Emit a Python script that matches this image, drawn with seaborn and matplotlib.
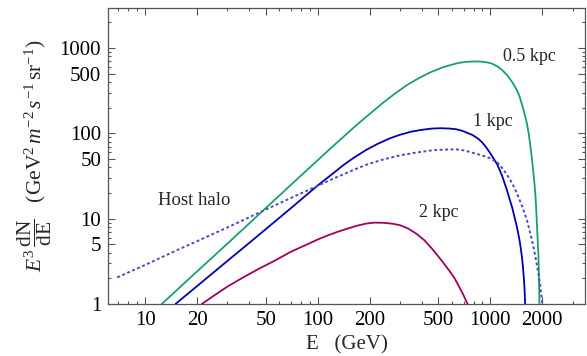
import numpy as np
import pandas as pd
import matplotlib
matplotlib.use("Agg")
import matplotlib.pyplot as plt
import seaborn as sns
from matplotlib.ticker import FixedLocator, FixedFormatter, NullFormatter

# ---------------- data ----------------
E_05 = [12.5, 16, 20, 30, 50, 80, 120, 170, 240, 280, 330, 390, 450, 530, 600, 660,
        720, 780, 826, 880, 950, 1020, 1100, 1170, 1249, 1340, 1426, 1480, 1530, 1580,
        1630, 1670, 1710, 1745, 1780, 1810, 1830, 1850, 1862, 1880, 1900, 1915, 1928]
F_05 = [1, 1.59, 2.41, 5.1, 13.3, 32, 68, 128, 230, 292, 370, 450, 520, 595, 640, 672,
        688, 696, 697, 695, 682, 660, 610, 555, 484, 400, 323, 270, 215, 170,
        131, 100, 70, 50, 34, 24, 18, 12, 8.8, 6, 3.8, 2.2, 1]

E_1 = [15, 20, 30, 45, 70, 100, 125, 140, 160, 191, 220, 260, 298, 350, 400, 460,
       519, 580, 634, 690, 740, 787, 850, 900, 950, 1000, 1050, 1100, 1170, 1249,
       1300, 1340, 1390, 1426, 1455, 1480, 1505, 1525, 1545, 1560, 1578, 1593]
F_1 = [1, 1.62, 3.2, 6.3, 13.3, 24.5, 35, 42, 51, 64, 74.5, 87, 96, 105, 110, 114,
       115, 114, 112, 107, 101, 96, 87, 78, 68, 58.5, 50, 43, 32, 21.7,
       16.5, 13.5, 10, 8.06, 6.6, 5.5, 4.4, 3.6, 2.8, 2.2, 1.6, 1]

E_2 = [21.3, 25, 30, 37, 45, 56, 70, 85, 100, 115, 130, 150, 170, 190, 213, 240,
       270, 300, 335, 372, 415, 462, 520, 580, 620, 660, 700, 739]
F_2 = [1, 1.25, 1.6, 2.05, 2.55, 3.2, 4.1, 4.9, 5.7, 6.4, 7.0, 7.7, 8.3, 8.75, 9.0, 8.95,
       8.75, 8.4, 7.65, 6.7, 5.6, 4.4, 3.28, 2.45, 2.02, 1.6, 1.27, 1]

E_host = [6.9, 10, 15, 20, 30, 50, 80, 128, 160, 191, 240, 298, 370, 462, 550, 634,
          710, 787, 890, 1000, 1100, 1170, 1249, 1340, 1426, 1530, 1630, 1710, 1780,
          1840, 1900, 1950, 2005]
F_host = [2.05, 2.87, 4.2, 5.45, 7.9, 12.8, 19.8, 30.5, 37, 42.9, 49.5, 55.1, 59.5, 63.4,
          64.6, 65, 63, 59.4, 55.5, 51, 45.5, 39.5, 33, 26, 19.9, 14, 9.7, 6.6, 4.7,
          3.3, 2.29, 1.6, 1]

x_major = [10, 20, 50, 100, 200, 500, 1000, 2000]
y_major = [1, 5, 10, 50, 100, 500, 1000]

# ---------------- style ----------------
sns.set_theme(style="ticks")
plt.rcParams['font.family'] = ['Liberation Serif', 'DejaVu Serif']
plt.rcParams['mathtext.fontset'] = 'custom'
plt.rcParams['mathtext.rm'] = 'Liberation Serif'
plt.rcParams['mathtext.it'] = 'Liberation Serif:italic'
plt.rcParams['mathtext.bf'] = 'Liberation Serif:bold'

fig = plt.figure(figsize=(5.87, 3.56), dpi=100)
ax = fig.add_axes([0.184, 0.146, 0.8126, 0.8315])

c_green = '#17a06c'
c_blue = '#0000b0'
c_mag = '#a0005c'
c_host = '#4a4ac4'

series = [
    (E_05, F_05, c_green),
    (E_1, F_1, c_blue),
    (E_2, F_2, c_mag),
]
for e, f, c in series:
    df = pd.DataFrame({'E': e, 'F': f})
    sns.lineplot(data=df, x='E', y='F', ax=ax, color=c, lw=1.3,
                 estimator=None, sort=False)
dfh = pd.DataFrame({'E': E_host, 'F': F_host})
sns.lineplot(data=dfh, x='E', y='F', ax=ax, color=c_host, lw=1.4,
             estimator=None, sort=False, linestyle=(0, (1.5, 1.3)))

ax.set_xscale('log')
ax.set_yscale('log')
ax.set_xlim(6.1, 3540)
ax.set_ylim(1, 2950)

# ticks
x_minor = [m * 10**d for d in range(0, 4) for m in range(1, 10)]
x_minor = [v for v in x_minor if v not in x_major and 6 <= v <= 3600]
y_minor = [m * 10**d for d in range(0, 4) for m in range(1, 10)]
y_minor = [v for v in y_minor if v not in y_major and 1 <= v <= 3000]
ax.xaxis.set_major_locator(FixedLocator(x_major))
ax.xaxis.set_major_formatter(FixedFormatter([str(v) for v in x_major]))
ax.xaxis.set_minor_locator(FixedLocator(x_minor))
ax.xaxis.set_minor_formatter(NullFormatter())
ax.yaxis.set_major_locator(FixedLocator(y_major))
ax.yaxis.set_major_formatter(FixedFormatter([str(v) for v in y_major]))
ax.yaxis.set_minor_locator(FixedLocator(y_minor))
ax.yaxis.set_minor_formatter(NullFormatter())

ax.tick_params(which='both', direction='in', top=True, right=True,
               color='#555555', width=0.8, labelsize=15, labelcolor='black')
ax.tick_params(which='major', length=5, pad=5)
ax.tick_params(which='minor', length=2.5)
for s in ax.spines.values():
    s.set_color('#555555')
    s.set_linewidth(0.9)

ax.set_xlabel(r'E   (GeV)', fontsize=15, labelpad=4)
ax.set_ylabel(r'$E^3\,\dfrac{\mathrm{dN}}{\mathrm{dE}}\quad(\mathrm{GeV}^2\,m^{-2}\,s^{-1}\,\mathrm{sr}^{-1})$',
              fontsize=15.5, labelpad=4)

ax.text(1189, 787, '0.5 kpc', fontsize=13, ha='left', va='center')
ax.text(794, 137, '1 kpc', fontsize=13, ha='left', va='center')
ax.text(385, 11.9, '2 kpc', fontsize=13, ha='left', va='center')
ax.text(11.9, 16.3, 'Host halo', fontsize=13.5, ha='left', va='center')

fig.savefig('out.png', dpi=100)
